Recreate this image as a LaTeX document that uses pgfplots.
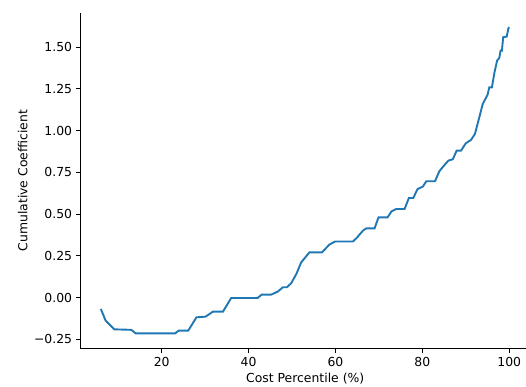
\documentclass[border=0pt]{standalone}
\usepackage{pgfplots}
\pgfplotsset{compat=1.18}
\usepackage{fontspec}
\setmainfont{DejaVu Sans}
\definecolor{tabblue}{HTML}{1F77B4}
\begin{document}
\fontsize{12.4bp}{14bp}\selectfont
\begin{tikzpicture}
\useasboundingbox (-80.7bp,-38.3bp) rectangle (445.3bp,348.7bp);
\begin{axis}[
  at={(0,0)}, anchor=south west,
  scale only axis,
  width=449bp, height=336bp,
  xmin=1.36, xmax=104.7,
  ymin=-0.306, ymax=1.707,
  axis lines*=left,
  axis line style={line width=1bp, black},
  tick align=outside,
  major tick length=4.3bp,
  tick style={line width=1bp, black},
  xtick={20,40,60,80,100},
  xticklabels={20,40,60,80,100},
  ytick={-0.25,0,0.25,0.5,0.75,1,1.25,1.5},
  yticklabels={−0.25,0.00,0.25,0.50,0.75,1.00,1.25,1.50},
  xlabel={Cost Percentile (\%)},
  ylabel={Cumulative Coefficient},
  every axis label/.append style={font=\fontsize{12.4bp}{14bp}\selectfont},
  every tick label/.append style={font=\fontsize{12.4bp}{14bp}\selectfont},
  xlabel style={yshift=2bp},
  ylabel style={yshift=-2bp},
]
\addplot[tabblue, line width=1.9bp] coordinates {
(6.0,-0.068) (7.1,-0.138) (9.1,-0.190) (13.0,-0.193) (14.0,-0.214)
(23.1,-0.214) (23.9,-0.198) (26.1,-0.198) (28.0,-0.118) (30.1,-0.114)
(31.8,-0.084) (34.1,-0.084) (36.0,-0.002) (42.1,-0.002) (43.0,0.018)
(45.2,0.018) (46.7,0.036) (47.9,0.062) (48.8,0.062) (49.8,0.086)
(51.0,0.142) (52.1,0.211) (54.0,0.271) (56.9,0.271) (58.6,0.318)
(59.9,0.336) (64.0,0.336) (64.9,0.358) (66.3,0.401) (67.1,0.415)
(69.0,0.415) (69.9,0.481) (72.0,0.481) (72.9,0.517) (74.0,0.531)
(75.9,0.531) (76.9,0.597) (77.9,0.597) (78.9,0.651) (80.1,0.665)
(80.9,0.697) (82.9,0.697) (83.9,0.757) (85.1,0.795) (86.0,0.821)
(87.0,0.829) (87.9,0.881) (88.9,0.881) (90.0,0.925) (91.2,0.945)
(92.1,0.981) (93.1,1.080) (93.9,1.161) (95.0,1.215) (95.4,1.260)
(96.0,1.260) (96.6,1.350) (97.2,1.420) (97.7,1.436) (98.0,1.480)
(98.3,1.480) (98.6,1.560) (99.4,1.564) (99.8,1.614) (100.0,1.62)
};
\end{axis}
\end{tikzpicture}
\end{document}
